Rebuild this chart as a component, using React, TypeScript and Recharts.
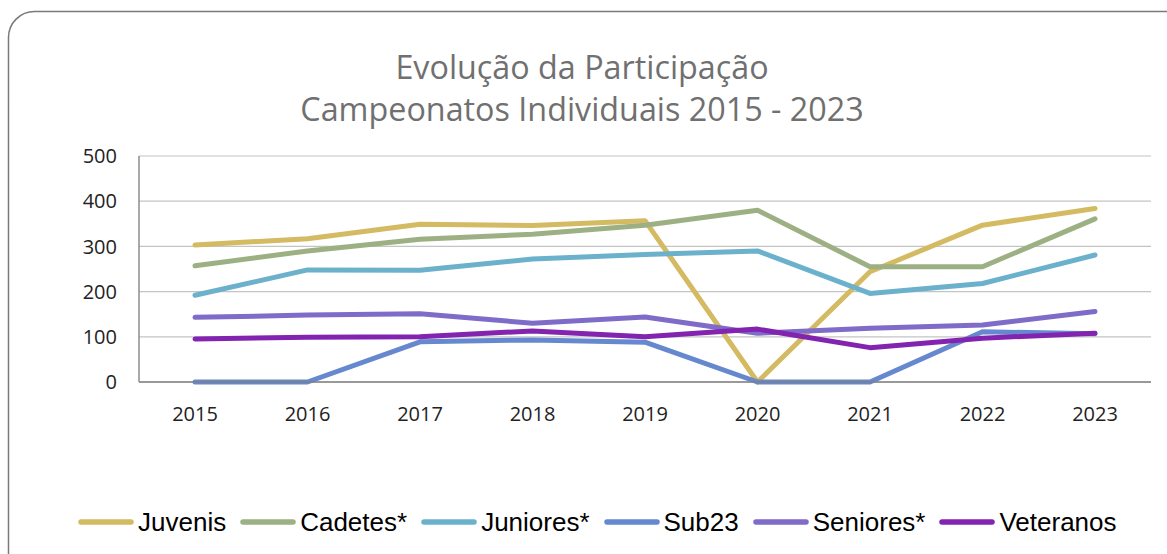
import React from 'react';
import { LineChart, Line, XAxis, YAxis, CartesianGrid } from 'recharts';

const years = ['2015', '2016', '2017', '2018', '2019', '2020', '2021', '2022', '2023'];
const juvenis = [303, 317, 349, 346, 357, 0, 244, 347, 384];
const cadetes = [257, 290, 316, 327, 347, 380, 255, 255, 361];
const juniores = [192, 248, 247, 272, 282, 290, 196, 218, 281];
const sub23 = [0, 0, 89, 93, 88, 0, 0, 111, 107];
const seniores = [143, 148, 151, 130, 144, 108, 119, 126, 156];
const veteranos = [95, 99, 100, 113, 100, 117, 76, 97, 108];
const yTicks = [0, 100, 200, 300, 400, 500];
const titleLines = ['Evolução da Participação', 'Campeonatos Individuais 2015 - 2023'];

const seriesDefs = [
  { key: 'Juvenis', values: juvenis, color: '#D4BA62' },
  { key: 'Cadetes*', values: cadetes, color: '#9CB083' },
  { key: 'Juniores*', values: juniores, color: '#6BB1CC' },
  { key: 'Sub23', values: sub23, color: '#6688CF' },
  { key: 'Seniores*', values: seniores, color: '#7F6BC8' },
  { key: 'Veteranos', values: veteranos, color: '#8224B0' },
];

const data = years.map((y, i) => {
  const row: Record<string, string | number> = { year: y };
  seriesDefs.forEach((s) => {
    row[s.key] = s.values[i];
  });
  return row;
});

const tickFont = { fontFamily: '"Open Sans", sans-serif', fontSize: 20, fill: '#222' };

export default function App() {
  return (
    <div style={{ position: 'fixed', left: 0, top: 0, width: 1167, height: 554, overflow: 'hidden', background: '#fff' }}>
      <svg width={1167} height={554} style={{ position: 'absolute', left: 0, top: 0 }}>
        <rect x={8.5} y={11.5} width={1200} height={600} rx={26} ry={26} fill="none" stroke="#7a7a7a" strokeWidth={1.5} />
        {titleLines.map((t, i) => (
          <text key={i} x={582} y={79 + i * 42} textAnchor="middle" fontFamily='"Open Sans", sans-serif' fontSize={32.3} fill="#707070">
            {t}
          </text>
        ))}
      </svg>
      <div style={{ position: 'absolute', left: 0, top: 0 }}>
        <LineChart width={1167} height={554} data={data} margin={{ top: 156, right: 16, bottom: 142, left: 0 }}>
          <CartesianGrid vertical={false} stroke="#c4c4c4" strokeWidth={1.2} />
          <XAxis
            dataKey="year"
            height={30}
            tickLine={false}
            tickSize={0}
            tickMargin={25}
            padding={{ left: 56, right: 56 }}
            axisLine={{ stroke: '#808080', strokeWidth: 1.5 }}
            tick={tickFont}
            interval={0}
          />
          <YAxis
            width={139}
            domain={[0, 500]}
            ticks={yTicks}
            tickLine={false}
            tickSize={0}
            tickMargin={22}
            axisLine={{ stroke: '#8c8c8c', strokeWidth: 1.5 }}
            tick={tickFont}
          />
          {seriesDefs.map((s) => (
            <Line
              key={s.key}
              type="linear"
              dataKey={s.key}
              stroke={s.color}
              strokeWidth={5}
              strokeLinecap="round"
              strokeLinejoin="round"
              dot={false}
              activeDot={false}
              isAnimationActive={false}
            />
          ))}
        </LineChart>
      </div>
      <div
        style={{
          position: 'absolute',
          left: 78,
          top: 507,
          display: 'flex',
          alignItems: 'center',
          fontFamily: '"Liberation Sans", Arial, sans-serif',
          fontSize: 26,
          color: '#000',
          whiteSpace: 'nowrap',
        }}
      >
        {seriesDefs.map((s) => (
          <div key={s.key} style={{ display: 'flex', alignItems: 'center', marginRight: 14 }}>
            <svg width={56} height={10} style={{ marginRight: 4 }}>
              <line x1={3} y1={5} x2={53} y2={5} stroke={s.color} strokeWidth={5.5} strokeLinecap="round" />
            </svg>
            <span style={{ lineHeight: '30px' }}>{s.key}</span>
          </div>
        ))}
      </div>
    </div>
  );
}
